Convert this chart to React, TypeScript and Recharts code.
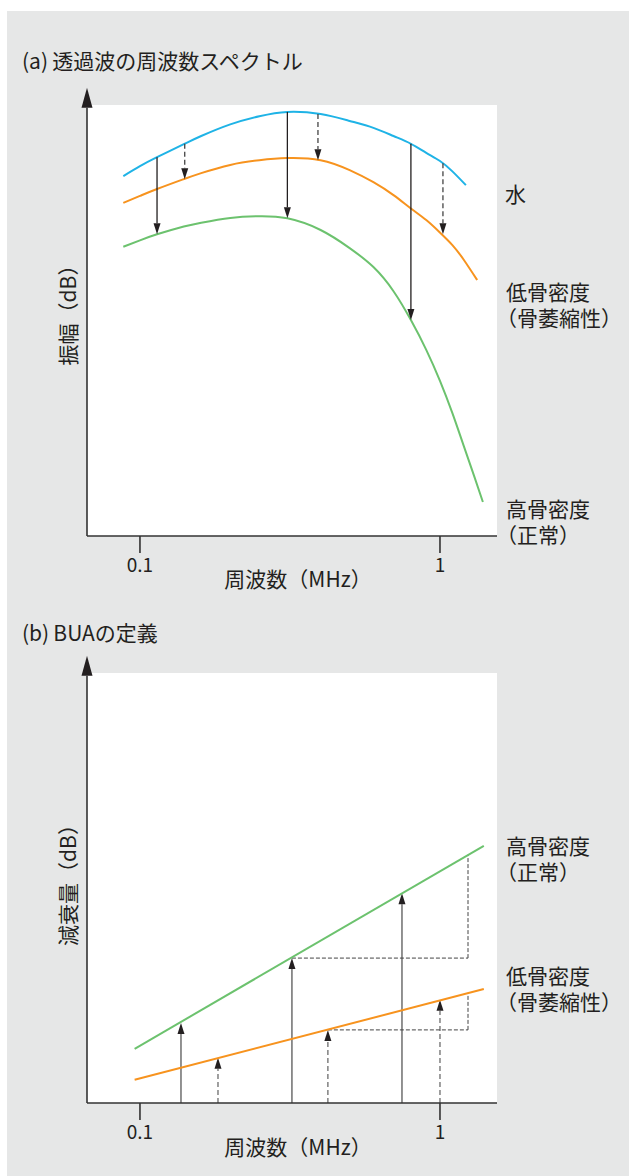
import React from 'react';
import { LineChart, Line, XAxis, YAxis, CartesianGrid, ReferenceLine } from 'recharts';

// ---------- chart (a) data : frequency (MHz) / amplitude (arbitrary dB) ----------
const waterFreq = [0.088, 0.1, 0.114, 0.14, 0.16, 0.2, 0.25, 0.31, 0.4, 0.5, 0.6, 0.7, 0.8, 0.9, 1.0, 1.1, 1.22];
const waterAmp = [83.5, 85.8, 87.9, 90.9, 92.8, 95.5, 97.4, 98.4, 97.9, 96.3, 94.7, 92.8, 91.0, 88.9, 87.0, 84.6, 81.4];

const lowFreq = [0.088, 0.1, 0.114, 0.14, 0.16, 0.2, 0.25, 0.31, 0.4, 0.5, 0.6, 0.7, 0.8, 0.9, 1.0, 1.1, 1.2, 1.33];
const lowAmp = [77.3, 78.9, 80.5, 82.8, 84.2, 86.1, 87.2, 87.7, 87.2, 84.9, 82.1, 79.1, 76.0, 73.3, 70.4, 67.5, 64.1, 59.4];

const highFreq = [0.088, 0.1, 0.114, 0.14, 0.16, 0.2, 0.25, 0.31, 0.4, 0.5, 0.6, 0.7, 0.8, 0.9, 1.0, 1.1, 1.2, 1.3, 1.39];
const highAmp = [67.1, 68.6, 70.0, 71.8, 72.7, 73.8, 74.2, 73.7, 71.0, 66.8, 62.4, 56.8, 50.1, 43.2, 36.0, 28.5, 20.9, 13.9, 7.9];

// arrows in (a): frequency, start value, end value
const solidArrowsA = [
  { f: 0.114, from: 87.9, to: 70.0 },
  { f: 0.31, from: 98.4, to: 73.7 },
  { f: 0.8, from: 91.0, to: 50.1 },
];
const dashedArrowsA = [
  { f: 0.141, from: 91.0, to: 82.8 },
  { f: 0.392, from: 97.9, to: 87.2 },
  { f: 1.023, from: 86.5, to: 70.0 },
];

// ---------- chart (b) data : frequency (MHz) / attenuation (dB) ----------
const buaFreq = [0.096, 1.4];
const buaHigh = [12.6, 59.8];
const buaLow = [5.4, 26.5];

const solidArrowsB = [
  { f: 0.137, to: 18.6 },
  { f: 0.321, to: 33.7 },
  { f: 0.747, to: 48.8 },
];
const dashedArrowsB = [
  { f: 0.182, to: 10.5 },
  { f: 0.423, to: 17.0 },
  { f: 1.0, to: 24.0 },
];
const guideHigh = { f0: 0.321, f1: 1.24, y0: 33.7, y1: 57.7 };
const guideLow = { f0: 0.423, f1: 1.24, y0: 17.0, y1: 25.6 };

const xTicks = [0.1, 1];
const xDomain: [number, number] = [0.0666, 1.549];

const FONT = '"Noto Sans CJK JP", "Noto Sans", sans-serif';
const TEXT = '#231f20';
const BLUE = '#1fb3e6';
const ORANGE = '#f7931e';
const GREEN = '#6cc26e';

const toSeries = (fs: number[], vs: number[]) => fs.map((f, i) => ({ f, v: vs[i] }));

const makeArrow =
  (color: string, width: number, dash: string | undefined, headLen: number, headW: number, headColor: string) =>
  (p: any) => {
    const { x1, y1, x2, y2 } = p;
    const dx = x2 - x1;
    const dy = y2 - y1;
    const len = Math.hypot(dx, dy) || 1;
    const ux = dx / len;
    const uy = dy / len;
    const bx = x2 - ux * headLen;
    const by = y2 - uy * headLen;
    const px = -uy * headW;
    const py = ux * headW;
    return (
      <g>
        <line x1={x1} y1={y1} x2={bx} y2={by} stroke={color} strokeWidth={width} strokeDasharray={dash} />
        <polygon points={`${x2},${y2} ${bx + px},${by + py} ${bx - px},${by - py}`} fill={headColor} />
      </g>
    );
  };

const plainLine = (color: string, width: number, dash?: string) => (p: any) =>
  <line x1={p.x1} y1={p.y1} x2={p.x2} y2={p.y2} stroke={color} strokeWidth={width} strokeDasharray={dash} />;

const axisArrow = makeArrow('#333', 1.6, undefined, 20, 5.5, '#231f20');
const solidA = makeArrow('#231f20', 1.3, undefined, 11, 3.5, '#231f20');
const dashedA = makeArrow('#444', 1.3, '5 3', 11, 3.5, '#231f20');
const solidB = makeArrow('#777', 1.6, undefined, 11, 3.5, '#231f20');
const dashedB = makeArrow('#777', 1.4, '5 3', 11, 3.5, '#231f20');
const guide = plainLine('#444', 1, '4 2');

const tickStyle = { fontSize: 19, fill: TEXT, fontFamily: FONT };

const abs = (left: number, top: number, extra: React.CSSProperties = {}): React.CSSProperties => ({
  position: 'absolute',
  left,
  top,
  fontSize: 21,
  lineHeight: '21px',
  color: TEXT,
  fontFamily: FONT,
  whiteSpace: 'nowrap',
  ...extra,
});

const vLabel = (cx: number, cy: number): React.CSSProperties => ({
  position: 'absolute',
  left: cx,
  top: cy,
  fontSize: 21,
  lineHeight: '21px',
  color: TEXT,
  fontFamily: FONT,
  whiteSpace: 'nowrap',
  transform: 'translate(-50%, -50%) rotate(-90deg)',
});

function TwoLine({ left, top, a, b }: { left: number; top: number; a: string; b: string }) {
  return (
    <div style={abs(left, top, { lineHeight: '26px' })}>
      <span style={{ marginLeft: 10 }}>{a}</span>
      <br />
      {b}
    </div>
  );
}

export default function App() {
  const water = toSeries(waterFreq, waterAmp);
  const low = toSeries(lowFreq, lowAmp);
  const high = toSeries(highFreq, highAmp);
  const bHigh = toSeries(buaFreq, buaHigh);
  const bLow = toSeries(buaFreq, buaLow);

  const xAxisProps = {
    dataKey: 'f',
    type: 'number' as const,
    scale: 'log' as const,
    domain: xDomain,
    allowDataOverflow: true,
    ticks: xTicks,
    interval: 0 as const,
    tickFormatter: (v: number) => String(v),
    axisLine: { stroke: '#333', strokeWidth: 1.6 },
    tickLine: { stroke: '#333', strokeWidth: 1.6 },
    tickSize: 17,
    tickMargin: 6,
    tick: tickStyle,
    height: 40,
  };

  return (
    <div>
      <div style={{ position: 'absolute', left: 7, top: 11, width: 622, height: 1165, background: '#e6e7e7' }} />

      {/* ---------- (a) ---------- */}
      <div style={abs(22, 50)}>(a)&thinsp;透過波の周波数スペクトル</div>
      <div style={{ position: 'absolute', left: 0, top: 0 }}>
        <LineChart width={629} height={600} margin={{ top: 105, right: 132, bottom: 24, left: 87 }}>
          <CartesianGrid fill="#ffffff" stroke="none" horizontal={false} vertical={false} />
          <XAxis {...xAxisProps} />
          <YAxis type="number" domain={[0, 100]} allowDataOverflow hide />
          <Line data={water} dataKey="v" type="natural" stroke={BLUE} strokeWidth={2} dot={false} activeDot={false} isAnimationActive={false} />
          <Line data={low} dataKey="v" type="natural" stroke={ORANGE} strokeWidth={2} dot={false} activeDot={false} isAnimationActive={false} />
          <Line data={high} dataKey="v" type="natural" stroke={GREEN} strokeWidth={2} dot={false} activeDot={false} isAnimationActive={false} />
          {solidArrowsA.map((a, i) => (
            <ReferenceLine key={`sa${i}`} ifOverflow="visible" segment={[{ x: a.f, y: a.from }, { x: a.f, y: a.to }]} shape={solidA} />
          ))}
          {dashedArrowsA.map((a, i) => (
            <ReferenceLine key={`da${i}`} ifOverflow="visible" segment={[{ x: a.f, y: a.from }, { x: a.f, y: a.to }]} shape={dashedA} />
          ))}
          <ReferenceLine ifOverflow="visible" segment={[{ x: xDomain[0], y: 0 }, { x: xDomain[0], y: 104 }]} shape={axisArrow} />
        </LineChart>
      </div>
      <div style={vLabel(67, 310)}>振幅（dB）</div>
      <div style={abs(298, 568, { transform: 'translateX(-50%)' })}>周波数（MHz）</div>
      <div style={abs(505, 183)}>水</div>
      <TwoLine left={496} top={278} a="低骨密度" b="（骨萎縮性）" />
      <TwoLine left={496} top={495} a="高骨密度" b="（正常）" />

      {/* ---------- (b) ---------- */}
      <div style={abs(22, 622)}>(b)&thinsp;BUAの定義</div>
      <div style={{ position: 'absolute', left: 0, top: 600 }}>
        <LineChart width={629} height={576} margin={{ top: 73, right: 132, bottom: 33, left: 87 }}>
          <CartesianGrid fill="#ffffff" stroke="none" horizontal={false} vertical={false} />
          <XAxis {...xAxisProps} />
          <YAxis type="number" domain={[0, 100]} allowDataOverflow hide />
          {solidArrowsB.map((a, i) => (
            <ReferenceLine key={`sb${i}`} ifOverflow="visible" segment={[{ x: a.f, y: 0 }, { x: a.f, y: a.to }]} shape={solidB} />
          ))}
          {dashedArrowsB.map((a, i) => (
            <ReferenceLine key={`db${i}`} ifOverflow="visible" segment={[{ x: a.f, y: 0 }, { x: a.f, y: a.to }]} shape={dashedB} />
          ))}
          {[guideHigh, guideLow].map((g, i) => (
            <ReferenceLine key={`gh${i}`} ifOverflow="visible" segment={[{ x: g.f0, y: g.y0 }, { x: g.f1, y: g.y0 }]} shape={guide} />
          ))}
          {[guideHigh, guideLow].map((g, i) => (
            <ReferenceLine key={`gv${i}`} ifOverflow="visible" segment={[{ x: g.f1, y: g.y0 }, { x: g.f1, y: g.y1 }]} shape={guide} />
          ))}
          <Line data={bHigh} dataKey="v" type="linear" stroke={GREEN} strokeWidth={2} dot={false} activeDot={false} isAnimationActive={false} />
          <Line data={bLow} dataKey="v" type="linear" stroke={ORANGE} strokeWidth={2} dot={false} activeDot={false} isAnimationActive={false} />
          <ReferenceLine ifOverflow="visible" segment={[{ x: xDomain[0], y: 0 }, { x: xDomain[0], y: 104 }]} shape={axisArrow} />
        </LineChart>
      </div>
      <div style={vLabel(67, 880)}>減衰量（dB）</div>
      <div style={abs(298, 1136, { transform: 'translateX(-50%)' })}>周波数（MHz）</div>
      <TwoLine left={496} top={832} a="高骨密度" b="（正常）" />
      <TwoLine left={496} top={962} a="低骨密度" b="（骨萎縮性）" />
    </div>
  );
}
